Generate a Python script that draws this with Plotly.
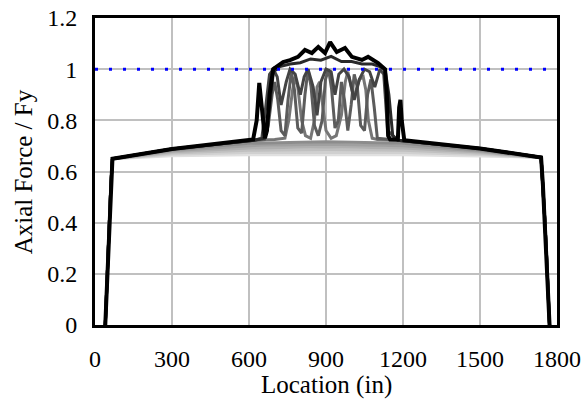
import plotly.graph_objects as go

# shared end ramps
left_x = [40, 45, 50, 55, 62, 68]
left_y = [0.0, 0.12, 0.30, 0.42, 0.55, 0.650]
right_x = [1738, 1745, 1752, 1758, 1765, 1771]
right_y = [0.655, 0.55, 0.42, 0.30, 0.12, 0.0]

# light gray arch series (interior points)
arch_x = [300, 600, 900, 1200, 1500]
g1_y = [0.662, 0.665, 0.664, 0.665, 0.661]
g2_y = [0.667, 0.674, 0.675, 0.674, 0.666]
g3_y = [0.672, 0.683, 0.686, 0.683, 0.671]
g4_y = [0.677, 0.692, 0.697, 0.692, 0.676]
g5_y = [0.681, 0.701, 0.707, 0.701, 0.680]
g6_y = [0.685, 0.710, 0.716, 0.710, 0.684]

# oscillating series: middle region
o1_x = [300, 620, 700, 740, 755, 770, 780, 790, 805, 820, 840, 855, 865, 875, 885, 900, 920, 940, 960,
        975, 985, 995, 1005, 1015, 1030, 1045, 1055, 1065, 1080, 1100, 1180, 1500]
o1_y = [0.688, 0.722, 0.725, 0.73, 0.80, 0.92, 0.97, 0.93, 0.80, 0.74, 0.73, 0.80, 0.93, 0.95, 0.88, 0.76,
        0.73, 0.74, 0.82, 0.95, 0.99, 0.95, 0.90, 0.91, 0.96, 0.97, 0.92, 0.80, 0.73, 0.725, 0.722, 0.690]

o2_x = [300, 620, 660, 675, 690, 700, 712, 725, 740, 752, 765, 777, 790, 805, 818, 830, 842, 855, 870,
        885, 898, 910, 922, 935, 948, 960, 972, 985, 998, 1010, 1022, 1035, 1050, 1062, 1075, 1088,
        1100, 1180, 1500]
o2_y = [0.688, 0.722, 0.725, 0.78, 0.90, 0.95, 0.88, 0.76, 0.74, 0.88, 0.99, 0.92, 0.77, 0.75, 0.90, 1.00,
        0.93, 0.78, 0.74, 0.80, 0.96, 1.00, 0.92, 0.77, 0.80, 0.95, 0.88, 0.76, 0.86, 0.98, 0.93, 0.78,
        0.76, 0.90, 0.96, 0.85, 0.73, 0.722, 0.690]

o3_x = [300, 620, 650, 665, 680, 695, 710, 725, 745, 760, 780, 800, 815, 830, 850, 865, 880, 900, 920,
        935, 950, 970, 990, 1010, 1030, 1050, 1070, 1090, 1110, 1125, 1140, 1180, 1500]
o3_y = [0.688, 0.722, 0.73, 0.85, 0.98, 1.0, 0.97, 0.86, 0.95, 1.0, 0.98, 0.90, 0.97, 1.0, 0.93, 0.82,
        0.95, 1.0, 0.99, 0.90, 0.98, 1.0, 0.97, 0.88, 0.96, 1.0, 0.99, 0.93, 1.0, 0.98, 0.76, 0.722, 0.690]

o4_x = [300, 620, 660, 680, 695, 720, 760, 800, 840, 880, 920, 960, 1000, 1040, 1080, 1110, 1130,
        1145, 1160, 1180, 1500]
o4_y = [0.688, 0.722, 0.73, 0.85, 0.99, 1.01, 1.02, 1.025, 1.04, 1.035, 1.05, 1.03, 1.03, 1.02, 1.02,
        1.01, 1.0, 0.90, 0.74, 0.722, 0.690]

blk_x = [300, 600, 616, 630, 640, 650, 662, 670, 680, 694, 710, 733, 760, 791, 818, 845, 870, 896, 916,
         942, 974, 1001, 1040, 1064, 1103, 1130, 1137, 1142, 1150, 1180, 1185, 1190, 1195, 1205, 1500]
blk_y = [0.688, 0.722, 0.725, 0.80, 0.946, 0.85, 0.73, 0.76, 0.90, 1.0, 1.01, 1.028, 1.035, 1.048, 1.075,
         1.063, 1.087, 1.063, 1.106, 1.067, 1.083, 1.048, 1.036, 1.048, 1.024, 1.0, 0.90, 0.74, 0.725,
         0.725, 0.85, 0.88, 0.80, 0.722, 0.690]

yield_x = [0, 1800]
yield_y = [1.0, 1.0]

x_ticks = [0, 300, 600, 900, 1200, 1500, 1800]
x_labels = ["0", "300", "600", "900", "1200", "1500", "1800"]
y_ticks = [0, 0.2, 0.4, 0.6, 0.8, 1.0, 1.2]
y_labels = ["0", "0.2", "0.4", "0.6", "0.8", "1", "1.2"]

series = [
    (arch_x, g1_y, "#e0e0e0", 3),
    (arch_x, g2_y, "#d0d0d0", 3),
    (arch_x, g3_y, "#c0c0c0", 3),
    (arch_x, g4_y, "#b0b0b0", 3),
    (arch_x, g5_y, "#a0a0a0", 3),
    (arch_x, g6_y, "#8c8c8c", 3),
    (o1_x, o1_y, "#767676", 3),
    (o2_x, o2_y, "#5c5c5c", 3),
    (o3_x, o3_y, "#444444", 3),
    (o4_x, o4_y, "#2a2a2a", 3),
    (blk_x, blk_y, "#000000", 4),
]

fig = go.Figure()
for xs, ys, col, w in series:
    fig.add_trace(go.Scatter(x=left_x + xs + right_x, y=left_y + ys + right_y, mode="lines",
                             line=dict(color=col, width=w), showlegend=False, hoverinfo="skip"))

fig.add_trace(go.Scatter(x=yield_x, y=yield_y, mode="lines",
                         line=dict(color="#0000ff", width=3, dash="3px,11px"), showlegend=False,
                         hoverinfo="skip"))

font = dict(family="Liberation Serif, Times New Roman, serif", size=24, color="black")
title_font = dict(family="Liberation Serif, Times New Roman, serif", size=25, color="black")
fig.update_layout(
    width=587, height=402,
    margin=dict(l=95, r=30, t=18, b=77),
    paper_bgcolor="white", plot_bgcolor="white",
    font=font,
    xaxis=dict(range=[0, 1800], tickvals=x_ticks, ticktext=x_labels,
               showgrid=True, gridcolor="#c0c0c0", gridwidth=2,
               showline=True, linecolor="black", linewidth=3, mirror=True,
               ticks="", zeroline=False, ticklabelstandoff=10, automargin=False,
               ticklabeloverflow="allow"),
    yaxis=dict(range=[0, 1.2], tickvals=y_ticks, ticktext=y_labels,
               showgrid=True, gridcolor="#c0c0c0", gridwidth=2,
               showline=True, linecolor="black", linewidth=3, mirror=True,
               ticks="", zeroline=False, ticklabelstandoff=10, automargin=False,
               ticklabeloverflow="allow"),
    annotations=[
        dict(text="Location (in)", xref="paper", yref="paper", x=0.5, y=-0.195,
             xanchor="center", yanchor="middle", showarrow=False, font=title_font),
        dict(text="Axial Force / Fy", xref="paper", yref="paper", x=-0.154, y=0.5,
             xanchor="center", yanchor="middle", showarrow=False, textangle=-90, font=title_font),
    ],
)
# remove the default 8px page margin so the 587x402 figure fills the window exactly
fig.write_html("out.html", config={"displayModeBar": False},
               post_script="document.body.style.margin='0px';document.body.style.overflow='hidden';")
